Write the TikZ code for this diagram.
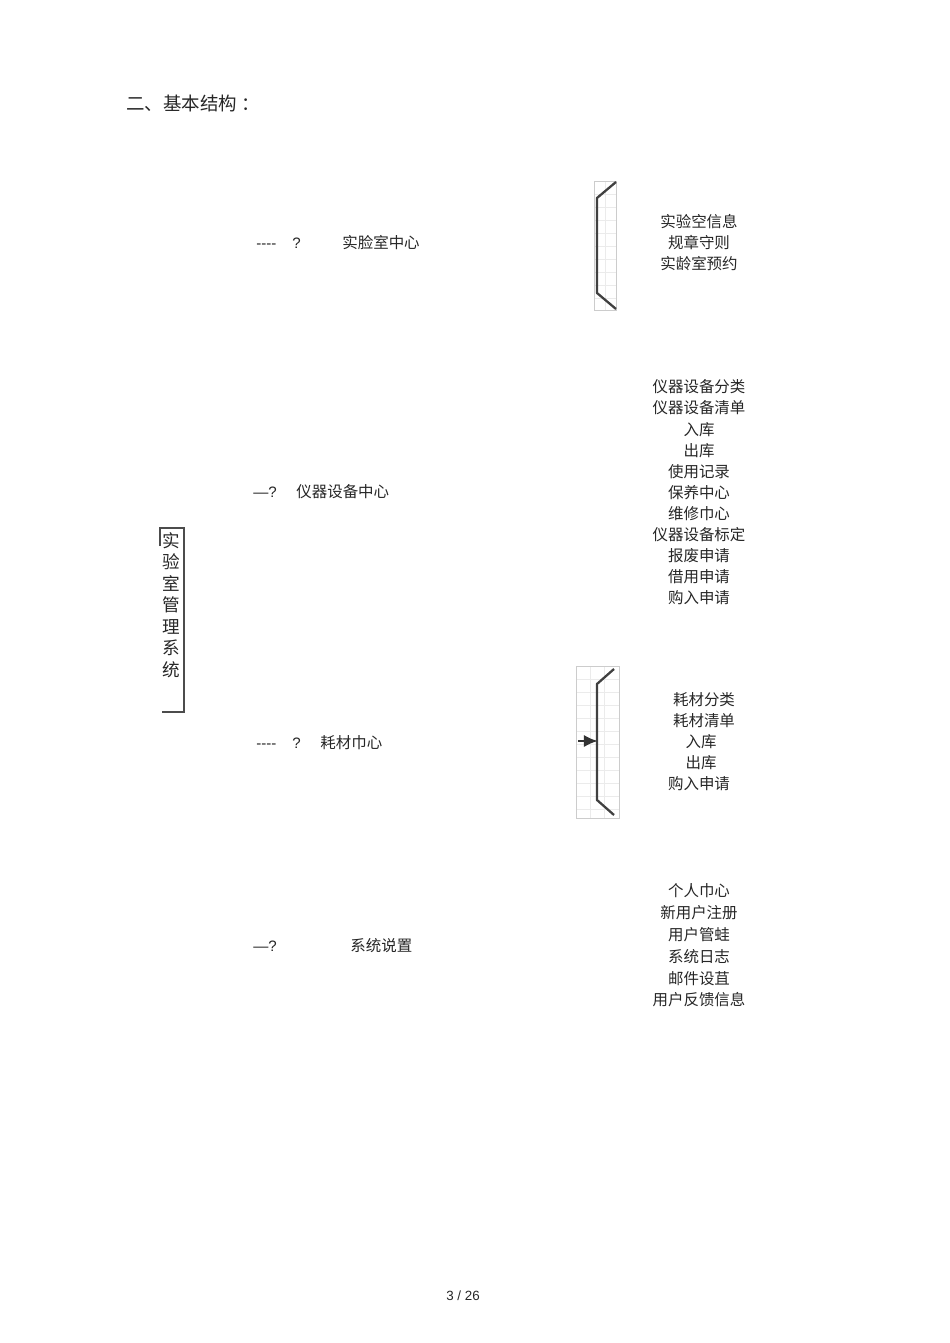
\documentclass[tikz,border=0pt]{standalone}
\usepackage{fontspec}
\setmainfont{Liberation Sans}
\newfontfamily\cjk{Noto Sans CJK SC}
\usetikzlibrary{arrows.meta}

\begin{document}
\begin{tikzpicture}[x=0.2mm,y=-0.2mm,
  txt/.style={font=\cjk\fontsize{8.8}{10}\selectfont, inner sep=0pt, text=black!85},
  lat/.style={font=\fontsize{8.6}{10}\selectfont, inner sep=0pt, text=black!85, text height=7.6pt, text depth=1.2pt},
  grd/.style={draw=black!8, line width=0.3pt},
  brk/.style={draw=black!75, line width=1.3pt, line join=round}]
\useasboundingbox (0,0) rectangle (950,1343);
% title
\node[txt, font=\cjk\fontsize{10.5}{12}\selectfont, anchor=west] (title) at (126,103) {二、基本结构 ：};
% system box
\draw[black!70, line width=0.6pt] (160,546) -- (160,528) -- (184,528) -- (184,712) -- (162,712);
\node[txt, font=\cjk\fontsize{10}{12.2}\selectfont, align=center] (sys) at (171,605) {实\\验\\室\\管\\理\\系\\统};
% branches
\node[lat, anchor=west] (d1) at (256,243) {-{}-{}-{}-};
\node[lat, anchor=west] (q1) at (292,243) {?};
\node[txt, anchor=west] (lab) at (342,243) {实脸室中心};
\node[lat, anchor=west] (d2) at (253,492) {—?};
\node[txt, anchor=west] (dev) at (296,492) {仪器设备中心};
\node[lat, anchor=west] (d3) at (256,743) {-{}-{}-{}-};
\node[lat, anchor=west] (q3) at (292,743) {?};
\node[txt, anchor=west] (mat) at (320,743) {耗材巾心};
\node[lat, anchor=west] (d4) at (253,946) {—?};
\node[txt, anchor=west] (sset) at (350,946) {系统说置};
% bracket 1
\draw[grd] (594,181) rectangle (616,310);
\draw[grd] (605,181) -- (605,310);
\foreach \gy in {194,207,...,300} \draw[grd] (594,\gy) -- (616,\gy);
\draw[draw=black!20, line width=0.4pt] (594,181) rectangle (616,310);
\draw[brk] (616,182) -- (597,198) -- (597,293) -- (616,309);
% bracket 2
\draw[grd] (576,666) rectangle (619,818);
\foreach \gx in {590,604} \draw[grd] (\gx,666) -- (\gx,818);
\foreach \gy in {679,692,...,810} \draw[grd] (576,\gy) -- (619,\gy);
\draw[draw=black!20, line width=0.4pt] (576,666) rectangle (619,818);
\draw[brk] (614,669) -- (597,684) -- (597,800) -- (614,815);
\coordinate (arrtail) at (578,741);
\coordinate (arrhead) at (598,741);
\draw[black!80, line width=1.6pt, -{Latex[length=8pt,width=7pt]}] (arrtail) -- (arrhead);
% lists
\foreach \t [count=\i] in {实验空信息,规章守则,实龄室预约}
  \node[txt] (la\i) at (699,{222+(\i-1)*21}) {\t};
\foreach \t [count=\i] in {仪器设备分类,仪器设备清单,入库,出库,使用记录,保养中心,维修巾心,仪器设备标定,报废申请,借用申请,购入申请}
  \node[txt] (dv\i) at (699,{387+(\i-1)*21.1}) {\t};
\node[txt] (mt1) at (704,700) {耗材分类};
\node[txt] (mt2) at (704,721) {耗材清单};
\node[txt] (mt3) at (701,742) {入库};
\node[txt] (mt4) at (701,763) {出库};
\node[txt] (mt5) at (699,784) {购入申请};
\foreach \t [count=\i] in {个人巾心,新用户注册,用户管蛙,系统日志,邮件设苴,用户反馈信息}
  \node[txt] (st\i) at (699,{891+(\i-1)*21.8}) {\t};
% page number
\node[lat, font=\fontsize{7.6}{9}\selectfont] (pg) at (463,1295) {3 / 26};
\end{tikzpicture}
\end{document}
